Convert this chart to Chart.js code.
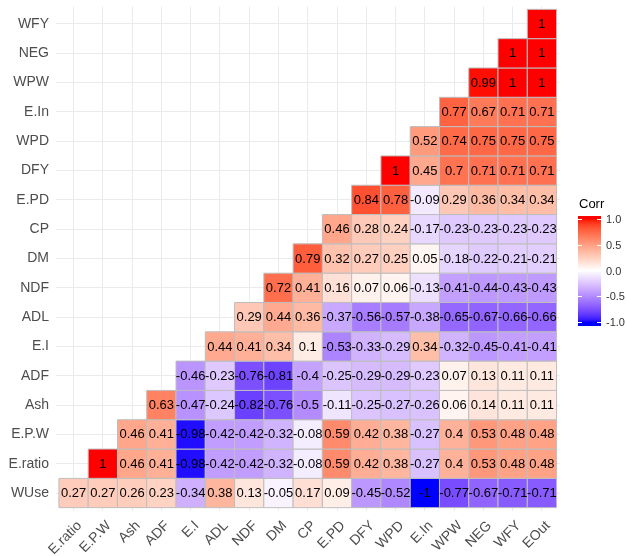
<!DOCTYPE html>
<html>
<head>
<meta charset="utf-8">
<script src="https://cdn.jsdelivr.net/npm/chart.js@4.4.1/dist/chart.umd.min.js"></script>
<style>
  html, body { margin: 0; padding: 0; background: #fff; }
  #wrap { width: 627px; height: 556px; }
</style>
</head>
<body>
<div id="wrap"><canvas id="corr-chart" width="627" height="556"></canvas></div>
<script>
(function() {
    'use strict';

    // Axis categories
    const xLabels = ['E.ratio', 'E.P.W', 'Ash', 'ADF', 'E.I', 'ADL', 'NDF', 'DM', 'CP',
        'E.PD', 'DFY', 'WPD', 'E.In', 'WPW', 'NEG', 'WFY', 'EOut'];
    const yLabels = ['WUse', 'E.ratio', 'E.P.W', 'Ash', 'ADF', 'E.I', 'ADL', 'NDF', 'DM',
        'CP', 'E.PD', 'DFY', 'WPD', 'E.In', 'WPW', 'NEG', 'WFY'];

    // Lower-triangle correlations, one array per row (row i starts at column i)
    const rowWUse  = [0.27, 0.27, 0.26, 0.23, -0.34, 0.38, 0.13, -0.05, 0.17, 0.09, -0.45, -0.52, -1, -0.77, -0.67, -0.71, -0.71];
    const rowERatio = [1, 0.46, 0.41, -0.98, -0.42, -0.42, -0.32, -0.08, 0.59, 0.42, 0.38, -0.27, 0.4, 0.53, 0.48, 0.48];
    const rowEPW   = [0.46, 0.41, -0.98, -0.42, -0.42, -0.32, -0.08, 0.59, 0.42, 0.38, -0.27, 0.4, 0.53, 0.48, 0.48];
    const rowAsh   = [0.63, -0.47, -0.24, -0.82, -0.76, -0.5, -0.11, -0.25, -0.27, -0.26, 0.06, 0.14, 0.11, 0.11];
    const rowADF   = [-0.46, -0.23, -0.76, -0.81, -0.4, -0.25, -0.29, -0.29, -0.23, 0.07, 0.13, 0.11, 0.11];
    const rowEI    = [0.44, 0.41, 0.34, 0.1, -0.53, -0.33, -0.29, 0.34, -0.32, -0.45, -0.41, -0.41];
    const rowADL   = [0.29, 0.44, 0.36, -0.37, -0.56, -0.57, -0.38, -0.65, -0.67, -0.66, -0.66];
    const rowNDF   = [0.72, 0.41, 0.16, 0.07, 0.06, -0.13, -0.41, -0.44, -0.43, -0.43];
    const rowDM    = [0.79, 0.32, 0.27, 0.25, 0.05, -0.18, -0.22, -0.21, -0.21];
    const rowCP    = [0.46, 0.28, 0.24, -0.17, -0.23, -0.23, -0.23, -0.23];
    const rowEPD   = [0.84, 0.78, -0.09, 0.29, 0.36, 0.34, 0.34];
    const rowDFY   = [1, 0.45, 0.7, 0.71, 0.71, 0.71];
    const rowWPD   = [0.52, 0.74, 0.75, 0.75, 0.75];
    const rowEIn   = [0.77, 0.67, 0.71, 0.71];
    const rowWPW   = [0.99, 1, 1];
    const rowNEG   = [1, 1];
    const rowWFY   = [1];

    // Legend ticks
    const legendTicks = [1.0, 0.5, 0.0, -0.5, -1.0];

    const rows = [rowWUse, rowERatio, rowEPW, rowAsh, rowADF, rowEI, rowADL, rowNDF, rowDM,
        rowCP, rowEPD, rowDFY, rowWPD, rowEIn, rowWPW, rowNEG, rowWFY];

    const cells = [];
    rows.forEach((vals, r) => {
        vals.forEach((v, k) => cells.push({ x: r + k, y: r, v: v }));
    });

    /**
     * Lab colour helpers (ggplot gradient2 interpolates in Lab)
     */
    function toLab(hex) {
        const c = [1, 3, 5].map(i => parseInt(hex.substr(i, 2), 16) / 255)
            .map(u => u <= 0.04045 ? u / 12.92 : Math.pow((u + 0.055) / 1.055, 2.4));
        const X = (0.4124564 * c[0] + 0.3575761 * c[1] + 0.1804375 * c[2]) / 0.95047;
        const Y = 0.2126729 * c[0] + 0.7151522 * c[1] + 0.0721750 * c[2];
        const Z = (0.0193339 * c[0] + 0.1191920 * c[1] + 0.9503041 * c[2]) / 1.08883;
        const f = t => t > 216 / 24389 ? Math.cbrt(t) : (24389 / 27 * t + 16) / 116;
        const fx = f(X), fy = f(Y), fz = f(Z);
        return [116 * fy - 16, 500 * (fx - fy), 200 * (fy - fz)];
    }

    function fromLab(lab) {
        const fy = (lab[0] + 16) / 116;
        const fx = fy + lab[1] / 500;
        const fz = fy - lab[2] / 200;
        const inv = f => f * f * f > 216 / 24389 ? f * f * f : (116 * f - 16) / (24389 / 27);
        const X = inv(fx) * 0.95047, Y = inv(fy), Z = inv(fz) * 1.08883;
        const lin = [
            3.2404542 * X - 1.5371385 * Y - 0.4985314 * Z,
            -0.9692660 * X + 1.8760108 * Y + 0.0415560 * Z,
            0.0556434 * X - 0.2040259 * Y + 1.0572252 * Z
        ];
        const rgb = lin.map(u => u <= 0.0031308 ? 12.92 * u : 1.055 * Math.pow(u, 1 / 2.4) - 0.055)
            .map(u => Math.round(Math.min(1, Math.max(0, u)) * 255));
        return 'rgb(' + rgb.join(',') + ')';
    }

    const LAB_LOW = toLab('#0000FF');
    const LAB_MID = toLab('#FFFFFF');
    const LAB_HIGH = toLab('#FF0000');

    function corrColor(v) {
        const t = Math.min(1, Math.abs(v));
        const end = v < 0 ? LAB_LOW : LAB_HIGH;
        return fromLab(LAB_MID.map((m, i) => m + (end[i] - m) * t));
    }

    const FONT = "'Liberation Sans', Arial, sans-serif";

    /**
     * Value labels on each cell
     */
    const cellTextPlugin = {
        id: 'cellText',
        afterDatasetsDraw(chart) {
            const ctx = chart.ctx;
            const meta = chart.getDatasetMeta(0);
            const data = chart.data.datasets[0].data;
            ctx.save();
            ctx.font = '13px ' + FONT;
            ctx.fillStyle = '#000000';
            ctx.textAlign = 'center';
            ctx.textBaseline = 'middle';
            meta.data.forEach((pt, i) => {
                ctx.fillText(String(data[i].v), pt.x, pt.y + 0.5);
            });
            ctx.restore();
        }
    };

    /**
     * Colour bar legend on the right
     */
    const colorBarPlugin = {
        id: 'colorBar',
        afterDraw(chart) {
            const ctx = chart.ctx;
            const left = 578, width = 23, top = 216, bottom = 326;
            const mid = 270.5;
            const unit = 51.5;
            ctx.save();
            ctx.font = '13px ' + FONT;
            ctx.fillStyle = '#000000';
            ctx.textAlign = 'left';
            ctx.textBaseline = 'alphabetic';
            ctx.fillText('Corr', left + 1, 208);

            for (let y = top; y < bottom; y++) {
                const v = Math.max(-1, Math.min(1, (mid - (y + 0.5)) / unit));
                ctx.fillStyle = corrColor(v);
                ctx.fillRect(left, y, width, 1);
            }

            ctx.strokeStyle = '#ffffff';
            ctx.lineWidth = 1;
            ctx.font = '11px ' + FONT;
            ctx.fillStyle = '#333333';
            ctx.textBaseline = 'middle';
            legendTicks.forEach(v => {
                const y = Math.round(mid - v * unit) + 0.5;
                ctx.beginPath();
                ctx.moveTo(left, y); ctx.lineTo(left + 4, y);
                ctx.moveTo(left + width - 4, y); ctx.lineTo(left + width, y);
                ctx.stroke();
                ctx.fillText(v.toFixed(1), left + width + 5, y);
            });
            ctx.restore();
        }
    };

    const ctx = document.getElementById('corr-chart');

    new Chart(ctx, {
        type: 'scatter',
        data: {
            datasets: [{
                data: cells,
                pointStyle: 'rect',
                pointRadius: function(c) {
                    const xs = c.chart.scales.x;
                    const side = Math.abs(xs.getPixelForValue(1) - xs.getPixelForValue(0));
                    return side / 2 / Math.SQRT1_2;
                },
                backgroundColor: c => c.raw ? corrColor(c.raw.v) : '#fff',
                borderColor: '#BEBEBE',
                borderWidth: 1
            }]
        },
        options: {
            responsive: false,
            animation: false,
            events: [],
            layout: {
                padding: { top: 6.4, right: 67.5, bottom: 0, left: 0 }
            },
            plugins: {
                legend: { display: false },
                tooltip: { enabled: false }
            },
            scales: {
                x: {
                    type: 'linear',
                    min: -0.6,
                    max: 16.6,
                    afterBuildTicks: s => { s.ticks = xLabels.map((_, i) => ({ value: i })); },
                    afterFit: s => {
                        s.height = 45.4;
                        s.paddingLeft = 0;
                        s.paddingRight = 0;
                    },
                    grid: { color: '#EBEBEB', lineWidth: 1, drawTicks: false },
                    border: { display: false },
                    ticks: {
                        autoSkip: false,
                        minRotation: 45,
                        maxRotation: 45,
                        padding: 7,
                        labelOffset: 6,
                        color: '#4D4D4D',
                        font: { family: FONT, size: 14 },
                        callback: v => xLabels[v]
                    }
                },
                y: {
                    type: 'linear',
                    min: -0.6,
                    max: 16.6,
                    afterBuildTicks: s => { s.ticks = yLabels.map((_, i) => ({ value: i })); },
                    afterFit: s => {
                        s.width = 56;
                        s.paddingTop = 0;
                        s.paddingBottom = 0;
                    },
                    grid: { color: '#EBEBEB', lineWidth: 1, drawTicks: false },
                    border: { display: false },
                    ticks: {
                        autoSkip: false,
                        padding: 7,
                        color: '#4D4D4D',
                        font: { family: FONT, size: 14 },
                        callback: v => yLabels[v]
                    }
                }
            }
        },
        plugins: [cellTextPlugin, colorBarPlugin]
    });
})();
</script>
</body>
</html>
